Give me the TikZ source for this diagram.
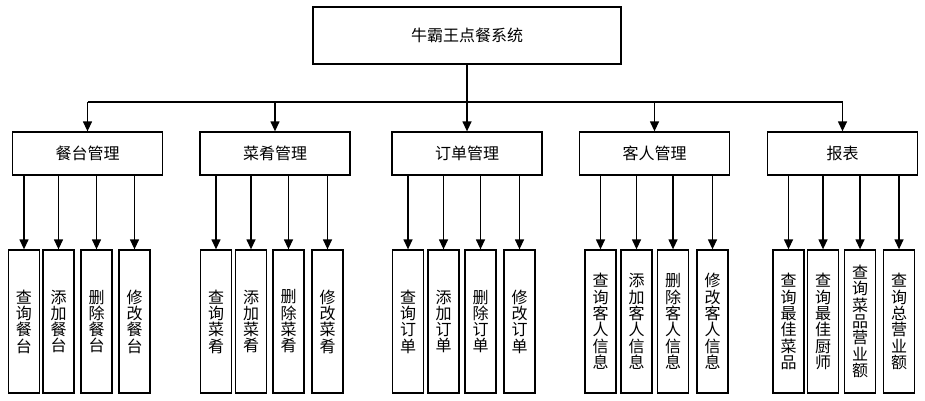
\documentclass[tikz,border=0pt]{standalone}
\usepackage{fontspec}
\newfontfamily\cjk{Noto Sans CJK SC}
\usetikzlibrary{arrows.meta}
\tikzset{
  box/.style={draw, line width=1.3pt, rectangle, inner sep=0pt, font=\cjk\fontsize{16}{16.3}\selectfont},
  topbox/.style={box, minimum width=308pt, minimum height=57pt},
  midbox/.style={box, minimum width=150pt, minimum height=43pt},
  leaf/.style={box, minimum width=31pt, minimum height=143pt, align=center},
  arr/.style={line width=1.3pt, -{Triangle[length=10pt,width=9pt]}},
  ln/.style={line width=1.3pt}
}
\begin{document}
\begin{tikzpicture}[x=1pt,y=-1pt]
\useasboundingbox (0,0) rectangle (925,400);
\node[topbox] (top) at (467,35.5) {牛霸王点餐系统};
\node[midbox] (m1) at (87.5,153.5) {餐台管理};
\node[midbox] (m2) at (275,153.5) {菜肴管理};
\node[midbox] (m3) at (467,153.5) {订单管理};
\node[midbox] (m4) at (654.5,153.5) {客人管理};
\node[midbox] (m5) at (842.5,153.5) {报表};
% leaves
\node[leaf] (a1) at (24,321.5) {查\\询\\餐\\台};
\node[leaf] (a2) at (58.5,321.5) {添\\加\\餐\\台};
\node[leaf] (a3) at (96.5,321.5) {删\\除\\餐\\台};
\node[leaf] (a4) at (134.5,321.5) {修\\改\\餐\\台};
\node[leaf] (b1) at (216,321.5) {查\\询\\菜\\肴};
\node[leaf] (b2) at (251,321.5) {添\\加\\菜\\肴};
\node[leaf] (b3) at (288.5,321.5) {删\\除\\菜\\肴};
\node[leaf] (b4) at (327.5,321.5) {修\\改\\菜\\肴};
\node[leaf] (c1) at (408,321.5) {查\\询\\订\\单};
\node[leaf] (c2) at (443.5,321.5) {添\\加\\订\\单};
\node[leaf] (c3) at (480.5,321.5) {删\\除\\订\\单};
\node[leaf] (c4) at (519.5,321.5) {修\\改\\订\\单};
\node[leaf] (d1) at (600.5,321.5) {查\\询\\客\\人\\信\\息};
\node[leaf] (d2) at (636.5,321.5) {添\\加\\客\\人\\信\\息};
\node[leaf] (d3) at (673,321.5) {删\\除\\客\\人\\信\\息};
\node[leaf] (d4) at (712.5,321.5) {修\\改\\客\\人\\信\\息};
\node[leaf] (e1) at (788.5,321.5) {查\\询\\最\\佳\\菜\\品};
\node[leaf] (e2) at (823,321.5) {查\\询\\最\\佳\\厨\\师};
\node[leaf] (e3) at (860,321.5) {查\\询\\菜\\品\\营\\业\\额};
\node[leaf] (e4) at (899,321.5) {查\\询\\总\\营\\业\\额};
% bus
\coordinate (bus) at (467,102);
\draw[ln] (top.south) -- (bus);
\draw[ln] (m1.north |- bus) -- (m5.north |- bus);
\foreach \m in {m1,m2,m3,m4,m5}
  \draw[arr] (\m.north |- bus) -- (\m.north);
\foreach \p/\c in {m1/a1,m1/a2,m1/a3,m1/a4,m2/b1,m2/b2,m2/b3,m2/b4,m3/c1,m3/c2,m3/c3,m3/c4,m4/d1,m4/d2,m4/d3,m4/d4,m5/e1,m5/e2,m5/e3,m5/e4}
  \draw[arr] (\c.north |- \p.south) -- (\c.north);
\end{tikzpicture}
\end{document}
